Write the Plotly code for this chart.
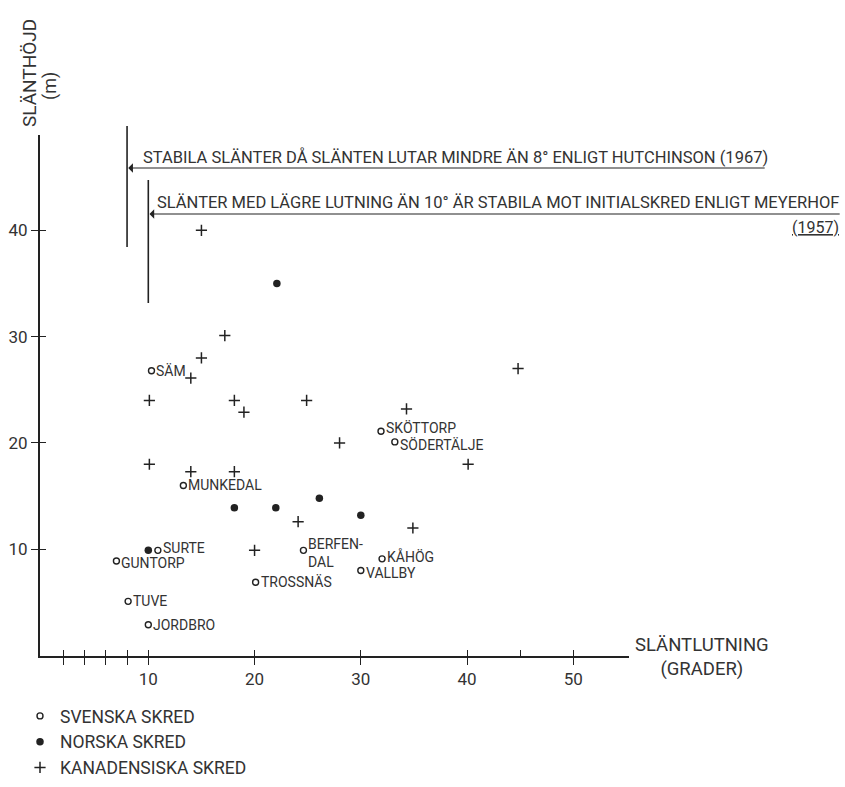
import plotly.graph_objects as go

# ---------------- data ----------------
svenska_names = ["SÄM", "SKÖTTORP", "SÖDERTÄLJE", "MUNKEDAL", "SURTE", "BERFEN-<br>DAL",
                 "GUNTORP", "TROSSNÄS", "TUVE", "JORDBRO", "KÅHÖG", "VALLBY"]
svenska_x = [10.3, 31.9, 33.2, 13.3, 10.9, 24.6, 7.0, 20.1, 8.1, 10.0, 32.0, 30.0]
svenska_y = [26.8, 21.1, 20.1, 16.0, 9.9, 9.9, 8.9, 6.9, 5.1, 2.9, 9.1, 8.0]

norska_x = [22.1, 26.1, 18.1, 22.0, 30.0, 10.0]
norska_y = [35.0, 14.8, 13.9, 13.9, 13.2, 9.9]

kanad_x = [15.0, 17.2, 15.0, 14.0, 10.1, 18.1, 19.0, 24.9, 44.8, 34.3, 28.0, 40.1,
           10.1, 14.0, 18.1, 24.1, 34.9, 20.0]
kanad_y = [40.0, 30.1, 28.0, 26.1, 24.0, 24.0, 22.9, 24.0, 27.0, 23.2, 20.0, 18.0,
           18.0, 17.3, 17.3, 12.6, 12.0, 9.9]

x_major_ticks = [10, 20, 30, 40, 50]
x_minor_ticks = [2, 4, 6, 8]
x_small_ticks = [45]
y_major_ticks = [10, 20, 30, 40]

hutchinson_angle = 8
meyerhof_angle = 10
hutchinson_text = "STABILA SLÄNTER DÅ SLÄNTEN LUTAR MINDRE ÄN 8° ENLIGT HUTCHINSON (1967)"
meyerhof_text = "SLÄNTER MED LÄGRE LUTNING ÄN 10° ÄR STABILA MOT INITIALSKRED ENLIGT MEYERHOF"
meyerhof_year = "(1957)"

legend_names = ["SVENSKA SKRED", "NORSKA SKRED", "KANADENSISKA SKRED"]

# ---------------- layout geometry / styles ----------------
W, H = 845, 787
L, T, PW, PH = 40, 135, 589, 521
X_RANGE = [-0.193, 55.24]
Y_RANGE = [-0.04, 48.97]

FONT = "Roboto, 'Open Sans', sans-serif"
INK = "#222222"
TXT = "#333333"

# small vertical nudges (px) for crowded point labels
label_yshift = {"SKÖTTORP": 3, "SÖDERTÄLJE": -3, "SURTE": 2, "GUNTORP": -2,
                "KÅHÖG": 2, "VALLBY": -2, "BERFEN-<br>DAL": -3}


def xp(px):
    return (px - L) / PW


def yp(py):
    return (T + PH - py) / PH


def xdata_to_paper(v):
    return (v - X_RANGE[0]) / (X_RANGE[1] - X_RANGE[0])


open_marker = dict(symbol="circle-open", size=6, color=INK, line=dict(width=1.4, color=INK))

fig = go.Figure()

fig.add_trace(go.Scatter(
    x=svenska_x, y=svenska_y, text=svenska_names, mode="markers", name=legend_names[0],
    marker=open_marker, hoverinfo="x+y+text", cliponaxis=False,
))
fig.add_trace(go.Scatter(
    x=norska_x, y=norska_y, mode="markers", name=legend_names[1],
    marker=dict(symbol="circle", size=7.5, color=INK), cliponaxis=False,
))
fig.add_trace(go.Scatter(
    x=kanad_x, y=kanad_y, mode="markers", name=legend_names[2],
    marker=dict(symbol="cross-thin", size=8, color=INK, line=dict(width=1.5, color=INK)),
    cliponaxis=False,
))
# invisible trace on overlay axes (for ticks crossing the axis lines)
fig.add_trace(go.Scatter(x=[None], y=[None], xaxis="x2", yaxis="y2",
                         showlegend=False, hoverinfo="skip"))

# point labels
for nx, ny, nm in zip(svenska_x, svenska_y, svenska_names):
    fig.add_annotation(x=nx, y=ny, text=nm, showarrow=False, xanchor="left", yanchor="middle",
                       align="left", xshift=3, yshift=label_yshift.get(nm, 0),
                       font=dict(family=FONT, size=14, color=TXT))

x_out_vals = x_minor_ticks + x_major_ticks
x_out_text = ["" for _ in x_minor_ticks] + [str(v) for v in x_major_ticks]

fig.update_layout(
    width=W, height=H,
    margin=dict(l=L, t=T, r=W - L - PW, b=H - T - PH, pad=0, autoexpand=False),
    paper_bgcolor="white", plot_bgcolor="white",
    font=dict(family=FONT, color=TXT),
    xaxis=dict(range=X_RANGE, showline=True, linewidth=2, linecolor=INK,
               ticks="outside", ticklen=7, tickwidth=1.3, tickcolor=INK,
               tickvals=x_out_vals, ticktext=x_out_text,
               tickfont=dict(family=FONT, size=17, color=TXT),
               showgrid=False, zeroline=False, fixedrange=True),
    yaxis=dict(range=Y_RANGE, showline=True, linewidth=2, linecolor=INK,
               ticks="outside", ticklen=7, tickwidth=1.3, tickcolor=INK,
               tickvals=y_major_ticks,
               tickfont=dict(family=FONT, size=17, color=TXT),
               showgrid=False, zeroline=False, fixedrange=True),
    xaxis2=dict(range=X_RANGE, overlaying="x", anchor="y", side="bottom",
                showline=False, ticks="inside", ticklen=6, tickwidth=1.3, tickcolor=INK,
                tickvals=x_minor_ticks + x_major_ticks + x_small_ticks,
                showticklabels=False, showgrid=False, zeroline=False, fixedrange=True),
    yaxis2=dict(range=Y_RANGE, overlaying="y", anchor="x", side="left",
                showline=False, ticks="inside", ticklen=6, tickwidth=1.3, tickcolor=INK,
                tickvals=y_major_ticks,
                showticklabels=False, showgrid=False, zeroline=False, fixedrange=True),
    legend=dict(x=xp(20), y=yp(698), xanchor="left", yanchor="top",
                font=dict(family=FONT, size=17.5, color=TXT),
                itemwidth=30, tracegroupgap=0, bgcolor="rgba(0,0,0,0)"),
)

# vertical limit lines
for ang, y0, y1 in [(hutchinson_angle, 126, 247), (meyerhof_angle, 180, 303)]:
    fig.add_shape(type="line", xref="paper", yref="paper",
                  x0=xdata_to_paper(ang), x1=xdata_to_paper(ang), y0=yp(y0), y1=yp(y1),
                  line=dict(color=INK, width=1.6))

# arrows
for ang, ypx, xend in [(hutchinson_angle, 168, 765), (meyerhof_angle, 214, 840)]:
    hx = xdata_to_paper(ang)
    head_px = L + hx * PW
    fig.add_annotation(xref="paper", yref="paper", x=hx + 0.002, y=yp(ypx), text="",
                       showarrow=True, ax=xend - head_px, ay=0,
                       arrowhead=1, arrowsize=1.3, arrowwidth=1.2, arrowcolor=INK,
                       standoff=0, startstandoff=0)

fig.add_annotation(xref="paper", yref="paper", x=xp(141), y=yp(157), text=hutchinson_text,
                   showarrow=False, xanchor="left", yanchor="middle",
                   font=dict(family=FONT, size=16.5, color=TXT))
fig.add_annotation(xref="paper", yref="paper", x=xp(841), y=yp(203), text=meyerhof_text,
                   showarrow=False, xanchor="right", yanchor="middle",
                   font=dict(family=FONT, size=16.5, color=TXT))
fig.add_annotation(xref="paper", yref="paper", x=xp(841), y=yp(228), text="<u>" + meyerhof_year + "</u>",
                   showarrow=False, xanchor="right", yanchor="middle",
                   font=dict(family=FONT, size=16, color=TXT))

# axis titles
fig.add_annotation(xref="paper", yref="paper", x=xp(702), y=yp(657),
                   text="SLÄNTLUTNING<br>(GRADER)", showarrow=False,
                   xanchor="center", yanchor="middle", align="center",
                   font=dict(family=FONT, size=18.5, color=TXT))
fig.add_annotation(xref="paper", yref="paper", x=xp(29), y=yp(73),
                   text="SLÄNTHÖJD", showarrow=False, textangle=-90,
                   xanchor="center", yanchor="middle",
                   font=dict(family=FONT, size=19, color=TXT))
fig.add_annotation(xref="paper", yref="paper", x=xp(50), y=yp(86),
                   text="(m)", showarrow=False, textangle=-90,
                   xanchor="center", yanchor="middle",
                   font=dict(family=FONT, size=18, color=TXT))

fig.write_html("out.html")
